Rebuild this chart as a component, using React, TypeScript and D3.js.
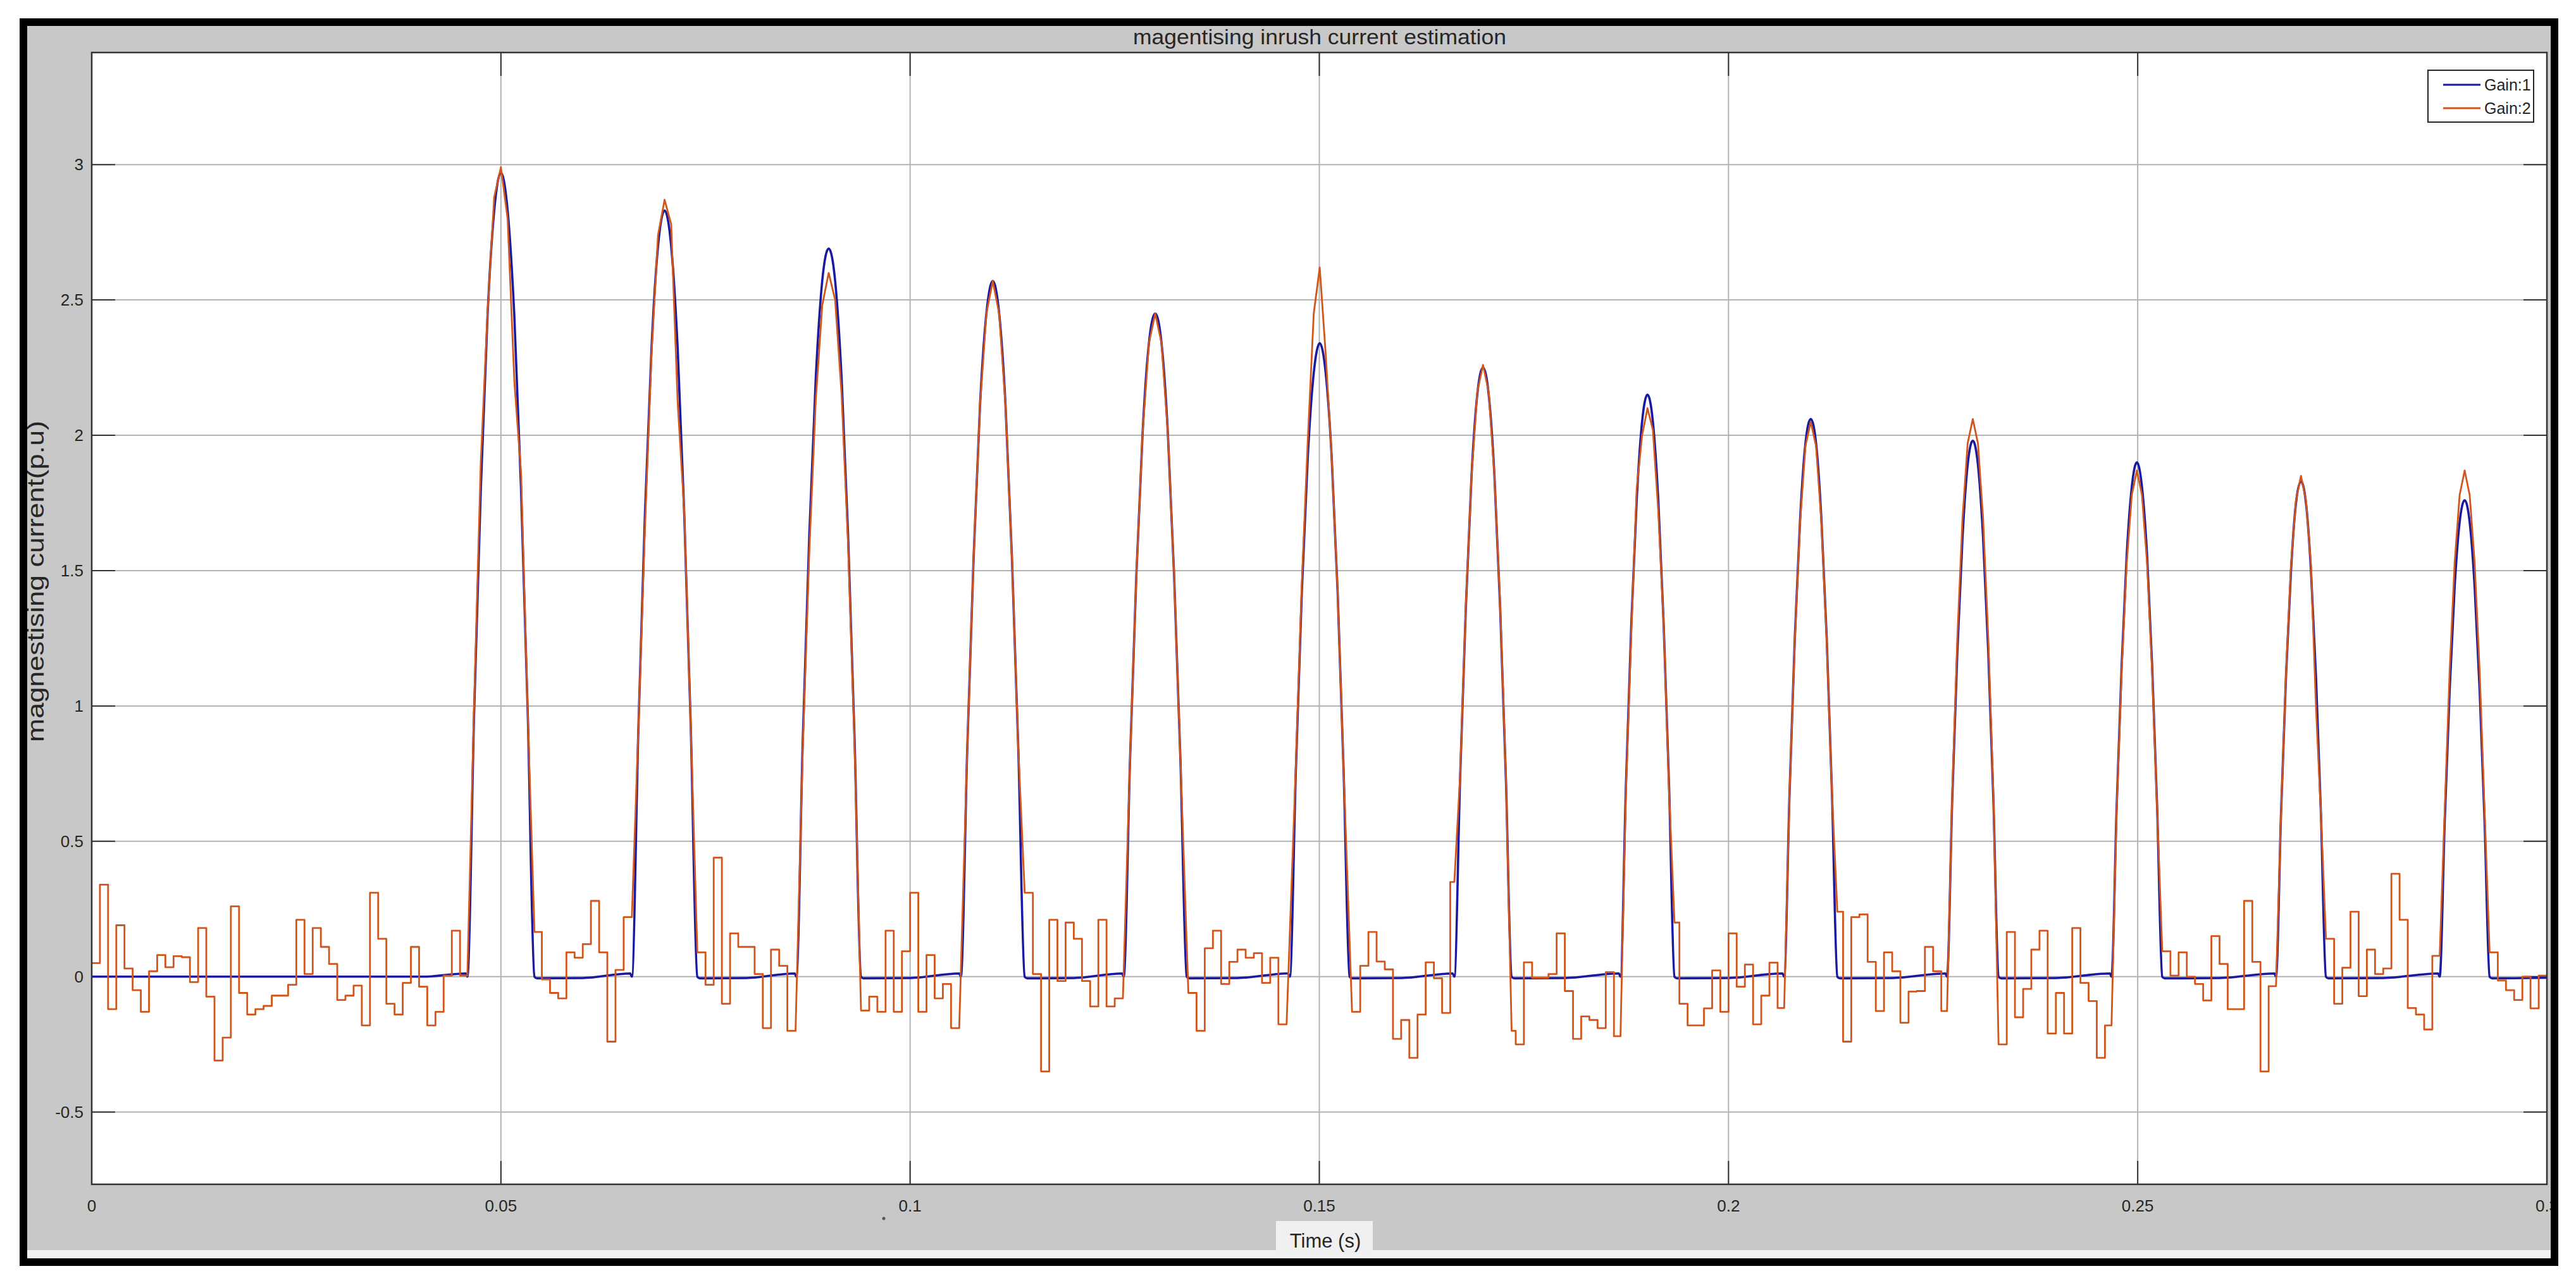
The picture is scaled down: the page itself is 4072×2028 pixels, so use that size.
import React from "react";
import * as d3 from "d3";

// axis ticks
const xTicks = [0, 0.05, 0.1, 0.15, 0.2, 0.25, 0.3];
const xTickLabels = ["0", "0.05", "0.1", "0.15", "0.2", "0.25", "0.3"];
const yTicks = [-0.5, 0, 0.5, 1, 1.5, 2, 2.5, 3];
const yTickLabels = ["-0.5", "0", "0.5", "1", "1.5", "2", "2.5", "3"];

// inrush pulses (s) : where each hump leaves / returns to the baseline
const pulseStart = [0.0459, 0.066, 0.0861, 0.1062, 0.1261, 0.1464, 0.1665, 0.1868, 0.2068, 0.2267, 0.2468, 0.2669, 0.2869];
const pulseEnd = [0.0541, 0.074, 0.094, 0.114, 0.1338, 0.1537, 0.1735, 0.1934, 0.2133, 0.233, 0.253, 0.273, 0.293];

// Gain:1, 11 samples across each pulse window
const gain1Pulses = [
  [0, 0.97, 1.8, 2.44, 2.83, 2.97, 2.83, 2.44, 1.8, 0.97, 0],
  [0, 0.92, 1.71, 2.32, 2.7, 2.83, 2.7, 2.32, 1.71, 0.92, 0],
  [0, 0.88, 1.63, 2.21, 2.57, 2.69, 2.57, 2.21, 1.63, 0.88, 0],
  [0, 0.84, 1.55, 2.11, 2.45, 2.57, 2.45, 2.11, 1.55, 0.84, 0],
  [0, 0.8, 1.48, 2.01, 2.34, 2.45, 2.34, 2.01, 1.48, 0.8, 0],
  [0, 0.76, 1.42, 1.92, 2.23, 2.34, 2.23, 1.92, 1.42, 0.76, 0],
  [0, 0.73, 1.36, 1.85, 2.15, 2.25, 2.15, 1.85, 1.36, 0.73, 0],
  [0, 0.7, 1.3, 1.76, 2.05, 2.15, 2.05, 1.76, 1.3, 0.7, 0],
  [0, 0.67, 1.25, 1.69, 1.97, 2.06, 1.97, 1.69, 1.25, 0.67, 0],
  [0, 0.65, 1.2, 1.62, 1.89, 1.98, 1.89, 1.62, 1.2, 0.65, 0],
  [0, 0.62, 1.15, 1.56, 1.81, 1.9, 1.81, 1.56, 1.15, 0.62, 0],
  [0, 0.6, 1.11, 1.5, 1.75, 1.83, 1.75, 1.5, 1.11, 0.6, 0],
  [0, 0.57, 1.06, 1.44, 1.68, 1.76, 1.68, 1.44, 1.06, 0.57, 0],
];

// Gain:1 between the pulses
const gain1Base: [number, number][] = [
  [0, 0], [0.0405, 0], [0.0457, 0.012],
  [0.0544, -0.006], [0.06, -0.005], [0.0658, 0.012],
  [0.0743, -0.006], [0.08, -0.005], [0.0859, 0.012],
  [0.0943, -0.006], [0.1, -0.005], [0.106, 0.012],
  [0.1143, -0.006], [0.12, -0.005], [0.1259, 0.012],
  [0.1341, -0.006], [0.14, -0.005], [0.1462, 0.012],
  [0.154, -0.006], [0.16, -0.005], [0.1663, 0.012],
  [0.1738, -0.006], [0.18, -0.005], [0.1866, 0.012],
  [0.1937, -0.006], [0.2, -0.005], [0.2066, 0.012],
  [0.2136, -0.006], [0.22, -0.005], [0.2265, 0.012],
  [0.2333, -0.006], [0.24, -0.005], [0.2466, 0.012],
  [0.2533, -0.006], [0.26, -0.005], [0.2667, 0.012],
  [0.2733, -0.006], [0.28, -0.005], [0.2867, 0.012],
  [0.2933, -0.006], [0.3, -0.004],
];

// Gain:2 inside each pulse window (inner 9 samples)
const gain2Pulses = [
  [1.0, 1.9, 2.45, 2.88, 2.99, 2.8, 2.2, 1.86, 0.97],
  [0.92, 1.66, 2.3, 2.74, 2.87, 2.78, 2.12, 1.72, 0.92],
  [0.85, 1.57, 2.13, 2.48, 2.6, 2.5, 2.15, 1.6, 0.86],
  [0.84, 1.55, 2.11, 2.45, 2.57, 2.45, 2.11, 1.55, 0.84],
  [0.8, 1.48, 2.01, 2.34, 2.45, 2.34, 2.01, 1.48, 0.8],
  [0.78, 1.45, 1.98, 2.45, 2.62, 2.3, 1.92, 1.42, 0.76],
  [0.74, 1.37, 1.85, 2.16, 2.26, 2.16, 1.85, 1.37, 0.74],
  [0.68, 1.27, 1.8, 2.0, 2.1, 2.02, 1.72, 1.3, 0.68],
  [0.67, 1.24, 1.68, 1.96, 2.05, 1.96, 1.68, 1.24, 0.67],
  [0.67, 1.25, 1.69, 1.97, 2.06, 1.97, 1.69, 1.25, 0.67],
  [0.61, 1.13, 1.53, 1.78, 1.87, 1.78, 1.53, 1.13, 0.61],
  [0.6, 1.12, 1.52, 1.76, 1.85, 1.76, 1.52, 1.0, 0.6],
  [0.61, 1.13, 1.53, 1.78, 1.87, 1.78, 1.53, 1.13, 0.61],
];

// Gain:2 held value for every 1 ms step (null = inside a pulse)
const gain2Steps: (number | null)[] = [
  0.05, 0.34, -0.12, 0.19, 0.03, -0.05, -0.13, 0.02, 0.08, 0.035,
  0.076, 0.072, -0.02, 0.18, -0.074, -0.31, -0.225, 0.26, -0.06, -0.14,
  -0.12, -0.108, -0.07, -0.07, -0.03, 0.21, 0.01, 0.18, 0.11, 0.047,
  -0.086, -0.07, -0.033, -0.18, 0.31, 0.14, -0.1, -0.14, -0.023, 0.11,
  -0.037, -0.18, -0.13, 0.004, 0.17, 0.004, null, null, null, null,
  null, null, null, null, 0.165, -0.01, -0.06, -0.08, 0.09, 0.07,
  0.12, 0.28, 0.09, -0.24, 0.025, 0.22, null, null, null, null,
  null, null, null, null, 0.09, -0.03, 0.44, -0.1, 0.16, 0.11,
  0.11, 0.01, -0.19, 0.1, 0.04, -0.2, null, null, null, null,
  null, null, null, null, -0.125, -0.074, -0.13, 0.17, -0.13, 0.094,
  0.31, -0.13, 0.08, -0.08, -0.027, -0.19, null, null, null, null,
  null, null, null, null, 0.31, 0.01, -0.35, 0.21, -0.016, 0.2,
  0.14, -0.016, -0.11, 0.21, -0.11, -0.08, null, null, null, null,
  null, null, null, null, -0.06, -0.2, 0.105, 0.17, -0.027, 0.055,
  0.1, 0.07, 0.087, -0.023, 0.07, -0.176, null, null, null, null,
  null, null, null, null, -0.13, 0.04, 0.165, 0.056, 0.027, -0.23,
  -0.16, -0.3, -0.14, 0.053, -0.006, -0.134, 0.35, null, null, null,
  null, null, null, -0.2, -0.25, 0.053, -0.004, -0.004, 0.01, 0.16,
  -0.053, -0.23, -0.147, -0.16, -0.19, 0.017, -0.22, null, null, null,
  null, null, null, 0.2, -0.1, -0.18, -0.18, -0.117, 0.023, -0.13,
  0.16, -0.037, 0.045, -0.176, -0.07, 0.052, -0.116, null, null, null,
  null, null, null, 0.24, -0.24, 0.22, 0.23, 0.055, -0.127, 0.09,
  0.02, -0.17, -0.055, -0.053, 0.11, 0.02, -0.127, null, null, null,
  null, null, null, -0.25, 0.165, -0.15, -0.045, 0.1, 0.17, -0.21,
  -0.06, -0.21, 0.18, -0.023, -0.09, -0.3, -0.18, null, null, null,
  null, null, null, 0.094, 0.004, 0.09, 0, -0.027, -0.088, 0.15,
  0.047, -0.12, -0.12, 0.28, 0.055, -0.35, -0.035, null, null, null,
  null, null, null, 0.14, -0.1, 0.033, 0.24, -0.072, 0.1, 0.01,
  0.03, 0.38, 0.21, -0.116, -0.14, -0.195, 0.077, null, null, null,
  null, null, null, 0.09, -0.014, -0.05, -0.086, 0, -0.117, 0.004,
];

const seriesNames = ["Gain:1", "Gain:2"];
const seriesColors = ["#1a1aa0", "#d0561c"];

const W = 4072;
const H = 2028;
const L = 145, T = 83, R = 4026, B = 1872;
const font = "'Liberation Sans', Arial, Helvetica, sans-serif";

export default function App() {
  const x = d3.scaleLinear().domain([0, 0.3]).range([L, R]);
  const y = d3.scaleLinear().domain([-0.767, 3.414]).range([B, T]);

  // Gain:1 points
  const blue: [number, number][] = [...gain1Base];
  gain1Pulses.forEach((row, p) => {
    row.forEach((v, i) => {
      blue.push([pulseStart[p] + (i / 10) * (pulseEnd[p] - pulseStart[p]), v]);
    });
  });
  blue.sort((a, b) => a[0] - b[0]);

  // Gain:2 points (zero-order-hold steps + pulse samples)
  const orange: [number, number][] = [];
  gain2Steps.forEach((v, k) => {
    if (v === null) return;
    let t0 = k / 1000;
    let t1 = (k + 1) / 1000;
    pulseStart.forEach((s, p) => {
      if (s > t0 && s < t1) t1 = s;
      if (pulseEnd[p] > t0 && pulseEnd[p] < t1) t0 = pulseEnd[p];
    });
    orange.push([t0, v], [t1, v]);
  });
  gain2Pulses.forEach((row, p) => {
    row.forEach((v, i) => {
      orange.push([pulseStart[p] + ((i + 1) / 10) * (pulseEnd[p] - pulseStart[p]), v]);
    });
  });
  orange.sort((a, b) => a[0] - b[0]);

  const blueLine = d3.line<[number, number]>().x((d) => x(d[0])).y((d) => y(d[1])).curve(d3.curveMonotoneX);
  const orangeLine = d3.line<[number, number]>().x((d) => x(d[0])).y((d) => y(d[1]));

  const tickLen = 37;
  const legX = 3838, legY = 111, legW = 167, legH = 82;

  return (
    <svg width={W} height={H} style={{ position: "absolute", left: 0, top: 0, background: "#fff" }}>
      {/* figure background */}
      <rect x={43} y={41} width={3989} height={1948} fill="#f2f2f2" />
      <rect x={43} y={41} width={3989} height={1935} fill="#c8c8c8" />
      <rect x={L} y={T} width={R - L} height={B - T} fill="#ffffff" />

      {/* grid */}
      {xTicks.map((t) => (
        <line key={"gx" + t} x1={x(t)} x2={x(t)} y1={T} y2={B} stroke="#b3b3b3" strokeWidth={2} />
      ))}
      {yTicks.map((t) => (
        <line key={"gy" + t} x1={L} x2={R} y1={y(t)} y2={y(t)} stroke="#b3b3b3" strokeWidth={2} />
      ))}

      {/* ticks on all four sides, pointing inwards */}
      {xTicks.map((t) => (
        <g key={"tx" + t} stroke="#333" strokeWidth={2}>
          <line x1={x(t)} x2={x(t)} y1={B} y2={B - tickLen} />
          <line x1={x(t)} x2={x(t)} y1={T} y2={T + tickLen} />
        </g>
      ))}
      {yTicks.map((t) => (
        <g key={"ty" + t} stroke="#333" strokeWidth={2}>
          <line x1={L} x2={L + tickLen} y1={y(t)} y2={y(t)} />
          <line x1={R} x2={R - tickLen} y1={y(t)} y2={y(t)} />
        </g>
      ))}

      {/* data */}
      <path d={blueLine(blue) || ""} fill="none" stroke={seriesColors[0]} strokeWidth={3.6} strokeLinejoin="round" />
      <path d={orangeLine(orange) || ""} fill="none" stroke={seriesColors[1]} strokeWidth={2.8} strokeLinejoin="round" />

      {/* axes box */}
      <rect x={L} y={T} width={R - L} height={B - T} fill="none" stroke="#333" strokeWidth={2.5} />

      {/* tick labels */}
      {xTicks.map((t, i) => (
        <text key={"lx" + t} x={x(t)} y={1915} textAnchor="middle" fontFamily={font} fontSize={26} fill="#262626">
          {xTickLabels[i]}
        </text>
      ))}
      {yTicks.map((t, i) => (
        <text key={"ly" + t} x={132} y={y(t) + 9} textAnchor="end" fontFamily={font} fontSize={26} fill="#262626">
          {yTickLabels[i]}
        </text>
      ))}

      {/* title and labels */}
      <text x={2086} y={70} textAnchor="middle" fontFamily={font} fontSize={34} textLength={590} lengthAdjust="spacingAndGlyphs" fill="#262626">
        magentising inrush current estimation
      </text>
      <rect x={2017} y={1930} width={153} height={53} fill="#f0f0f0" />
      <text x={2095} y={1972} textAnchor="middle" fontFamily={font} fontSize={31} fill="#262626">
        Time (s)
      </text>
      <text transform="translate(69,919) rotate(-90)" textAnchor="middle" fontFamily={font} fontSize={37} textLength={508} lengthAdjust="spacingAndGlyphs" fill="#262626">
        magnestising current(p.u)
      </text>
      <circle cx={1397} cy={1926} r={2.5} fill="#555" />

      {/* legend */}
      <rect x={legX} y={legY} width={legW} height={legH} fill="#fff" stroke="#262626" strokeWidth={2} />
      {seriesNames.map((n, i) => (
        <g key={n}>
          <line x1={3862} x2={3921} y1={134 + i * 37} y2={134 + i * 37} stroke={seriesColors[i]} strokeWidth={3.2} />
          <text x={3927} y={143 + i * 37} fontFamily={font} fontSize={25} fill="#262626">
            {n}
          </text>
        </g>
      ))}

      {/* outer black frame */}
      <rect x={31} y={29} width={4013} height={12} fill="#000" />
      <rect x={31} y={1989} width={4013} height={12} fill="#000" />
      <rect x={31} y={29} width={12} height={1972} fill="#000" />
      <rect x={4032} y={29} width={12} height={1972} fill="#000" />
    </svg>
  );
}
